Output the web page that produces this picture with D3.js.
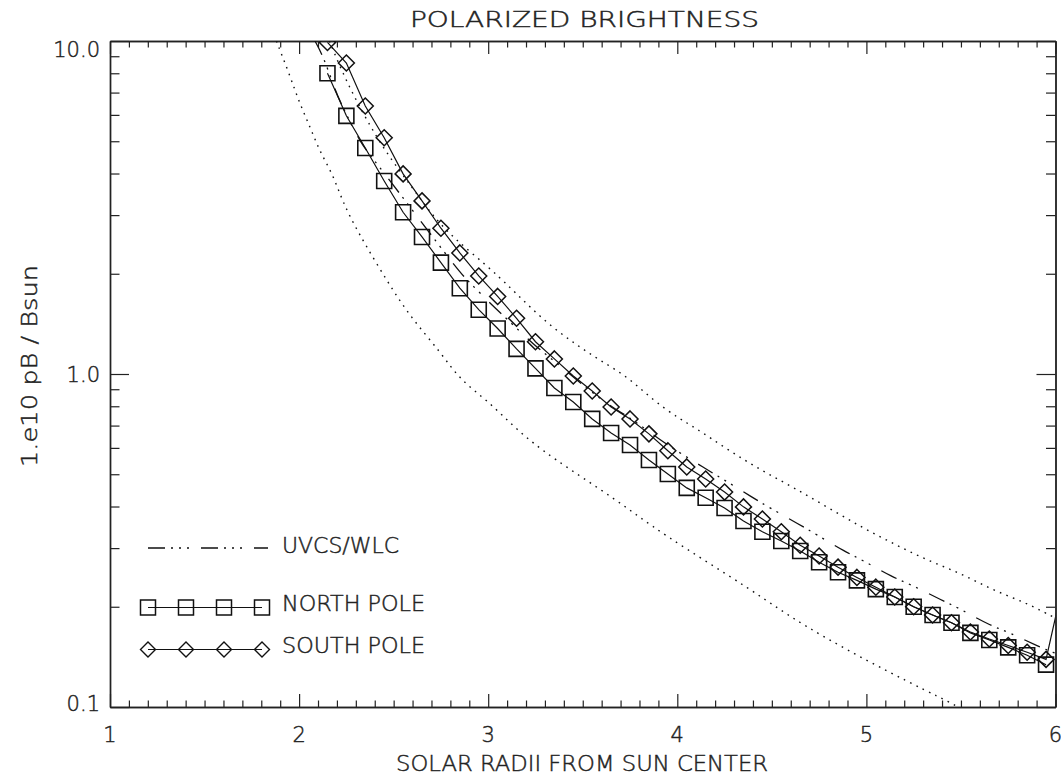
<!DOCTYPE html>
<html>
<head>
<meta charset="utf-8">
<script src="https://cdn.jsdelivr.net/npm/d3@7"></script>
<style>
body { margin: 0; background: #fff; }
text { font-family: "DejaVu Sans", sans-serif; font-weight: 200; fill: #222; stroke: #222; stroke-width: 0.45; }
</style>
</head>
<body>
<script>
// ---- data ----
const xTicks = [1, 2, 3, 4, 5, 6];
const yTicks = [0.1, 1, 10];
const yTickLabels = ["0.1", "1.0", "10.0"];

const northR = [2.15, 2.25, 2.35, 2.45, 2.55, 2.65, 2.75, 2.85, 2.95, 3.05, 3.15, 3.25, 3.35, 3.45,
  3.55, 3.65, 3.75, 3.85, 3.95, 4.05, 4.15, 4.25, 4.35, 4.45, 4.55, 4.65, 4.75, 4.85, 4.95,
  5.05, 5.15, 5.25, 5.35, 5.45, 5.55, 5.65, 5.75, 5.85, 5.95];
const northPB = [8.0, 5.96, 4.77, 3.80, 3.06, 2.58, 2.16, 1.81, 1.56, 1.37, 1.19, 1.04, 0.908, 0.824,
  0.733, 0.665, 0.612, 0.552, 0.501, 0.455, 0.425, 0.396, 0.362, 0.336, 0.315, 0.294, 0.272, 0.254, 0.240,
  0.226, 0.214, 0.200, 0.189, 0.179, 0.167, 0.159, 0.151, 0.143, 0.134];

const southR = [2.15, 2.25, 2.35, 2.45, 2.55, 2.65, 2.75, 2.85, 2.95, 3.05, 3.15, 3.25, 3.35, 3.45,
  3.55, 3.65, 3.75, 3.85, 3.95, 4.05, 4.15, 4.25, 4.35, 4.45, 4.55, 4.65, 4.75, 4.85, 4.95,
  5.05, 5.15, 5.25, 5.35, 5.45, 5.55, 5.65, 5.75, 5.85, 5.95, 6.05];
const southPB = [9.9, 8.59, 6.38, 5.12, 3.99, 3.31, 2.74, 2.31, 1.97, 1.71, 1.47, 1.25, 1.11, 0.986,
  0.889, 0.796, 0.733, 0.661, 0.588, 0.526, 0.484, 0.442, 0.399, 0.367, 0.336, 0.306, 0.284, 0.263, 0.245,
  0.229, 0.214, 0.200, 0.189, 0.179, 0.168, 0.160, 0.153, 0.146, 0.139, 0.249];

const uvcsR = [2.08, 2.13, 2.19, 2.23, 2.33, 2.39, 2.83, 2.89, 3.03, 3.09, 3.25, 3.33, 3.59, 3.77, 3.92,
  4.16, 4.24, 4.40, 4.48, 4.65, 4.73, 4.89, 4.98, 5.14, 5.23, 5.40, 5.49, 5.65, 5.75, 5.92, 6.00];
const uvcsPB = [10.1, 8.95, 7.13, 6.34, 4.87, 4.46, 2.08, 1.91, 1.59, 1.48, 1.21, 1.12, 0.836, 0.728, 0.625,
  0.515, 0.484, 0.425, 0.399, 0.352, 0.331, 0.292, 0.276, 0.245, 0.234, 0.209, 0.198, 0.176, 0.168, 0.151, 0.145];

// dotted envelope curves
const lowR = [1.88, 1.95, 2.00, 2.06, 2.11, 2.18, 2.23, 2.31, 2.47, 2.59, 2.75, 2.85, 3.00, 3.15, 3.33,
  3.68, 3.91, 4.40, 4.65, 5.14, 5.48, 5.52];
const lowPB = [10.0, 7.91, 6.56, 5.48, 4.65, 3.96, 3.29, 2.67, 1.88, 1.48, 1.16, 0.96, 0.83, 0.68, 0.563,
  0.419, 0.333, 0.224, 0.177, 0.125, 0.101, 0.097];

const highR = [2.16, 2.25, 2.38, 2.48, 2.60, 2.70, 2.81, 3.00, 3.12, 3.22, 3.34, 3.47, 3.59, 3.74, 3.87,
  4.02, 4.09, 4.27, 4.44, 4.61, 4.79, 4.97, 5.14, 5.32, 5.50, 5.67, 5.85, 5.99];
const highPB = [10.0, 7.53, 5.48, 4.46, 3.62, 3.02, 2.58, 2.10, 1.81, 1.59, 1.38, 1.22, 1.10, 0.979, 0.835,
  0.728, 0.693, 0.591, 0.515, 0.458, 0.399, 0.348, 0.310, 0.276, 0.252, 0.224, 0.205, 0.186];

// ---- layout ----
const W = 1061, H = 778;
const pL = 110, pR = 1055.5, pT = 41, pB = 707;

const svg = d3.select("body").append("svg")
  .attr("width", W).attr("height", H);

const x = d3.scaleLinear().domain([1, 6]).range([pL, pR]);
const y = d3.scaleLog().domain([0.1, 10]).range([pB, pT]);

const zip = (a, b) => a.map((v, i) => [v, b[i]]);

svg.append("defs").append("clipPath").attr("id", "plotclip")
  .append("rect").attr("x", pL).attr("y", pT)
  .attr("width", pR - pL).attr("height", pB - pT);

// ---- axes ----
const xMinor = d3.range(10, 61).map(d => d / 10).filter(d => !xTicks.includes(d));
const yMinor = [];
[0.1, 1].forEach(dec => { for (let k = 2; k <= 9; k++) yMinor.push(dec * k); });

const xLen = 13, yLen = 19;

function styleAxis(g) {
  g.selectAll("path.domain").attr("stroke", "#222").attr("stroke-width", 1.4);
  g.selectAll(".tick line").attr("stroke", "#222").attr("stroke-width", 1.2);
  g.selectAll(".tick text").remove();
}

svg.append("g").attr("transform", `translate(0,${pB})`)
  .call(d3.axisBottom(x).tickValues(xTicks).tickSizeInner(-xLen).tickSizeOuter(0)).call(styleAxis);
svg.append("g").attr("transform", `translate(0,${pB})`)
  .call(d3.axisBottom(x).tickValues(xMinor).tickSizeInner(-xLen / 2).tickSizeOuter(0)).call(styleAxis);
svg.append("g").attr("transform", `translate(0,${pT})`)
  .call(d3.axisTop(x).tickValues(xTicks).tickSizeInner(-xLen).tickSizeOuter(0)).call(styleAxis);
svg.append("g").attr("transform", `translate(0,${pT})`)
  .call(d3.axisTop(x).tickValues(xMinor).tickSizeInner(-xLen / 2).tickSizeOuter(0)).call(styleAxis);

svg.append("g").attr("transform", `translate(${pL},0)`)
  .call(d3.axisLeft(y).tickValues(yTicks).tickSizeInner(-yLen).tickSizeOuter(0)).call(styleAxis);
svg.append("g").attr("transform", `translate(${pL},0)`)
  .call(d3.axisLeft(y).tickValues(yMinor).tickSizeInner(-yLen / 2).tickSizeOuter(0)).call(styleAxis);
svg.append("g").attr("transform", `translate(${pR},0)`)
  .call(d3.axisRight(y).tickValues(yTicks).tickSizeInner(-yLen).tickSizeOuter(0)).call(styleAxis);
svg.append("g").attr("transform", `translate(${pR},0)`)
  .call(d3.axisRight(y).tickValues(yMinor).tickSizeInner(-yLen / 2).tickSizeOuter(0)).call(styleAxis);

// tick labels
svg.append("g").selectAll("text").data(xTicks).join("text")
  .attr("x", d => x(d)).attr("y", 742)
  .attr("text-anchor", "middle").attr("font-size", 21)
  .text(d => d);

svg.append("g").selectAll("text").data(yTicks).join("text")
  .attr("x", 100)
  .attr("y", d => Math.min(Math.max(y(d), pT + 8.5), pB - 4) + 7.5)
  .attr("text-anchor", "end").attr("font-size", 21)
  .text((d, i) => yTickLabels[i]);

// titles
svg.append("text").attr("x", 410).attr("y", 27)
  .attr("font-size", 21).attr("textLength", 349).attr("lengthAdjust", "spacingAndGlyphs")
  .text("POLARIZED BRIGHTNESS");
svg.append("text").attr("x", 396).attr("y", 771)
  .attr("font-size", 21).attr("textLength", 372).attr("lengthAdjust", "spacingAndGlyphs")
  .text("SOLAR RADII FROM SUN CENTER");
svg.append("text").attr("transform", "translate(37,467) rotate(-90)")
  .attr("font-size", 21).attr("textLength", 202).attr("lengthAdjust", "spacingAndGlyphs")
  .text("1.e10 pB / Bsun");

// ---- data marks ----
const plot = svg.append("g").attr("clip-path", "url(#plotclip)");

const smooth = d3.line().x(d => x(d[0])).y(d => y(d[1])).curve(d3.curveBasis);
const straight = d3.line().x(d => x(d[0])).y(d => y(d[1]));

const dotted = "1.6,5.4";
const dashDot = "17,6,2,6,2,6,2,12";

plot.append("path").datum(zip(lowR, lowPB)).attr("d", smooth)
  .attr("fill", "none").attr("stroke", "#111").attr("stroke-width", 1.4).attr("stroke-dasharray", dotted);
plot.append("path").datum(zip(highR, highPB)).attr("d", smooth)
  .attr("fill", "none").attr("stroke", "#111").attr("stroke-width", 1.4).attr("stroke-dasharray", dotted);
plot.append("path").datum(zip(uvcsR, uvcsPB)).attr("d", smooth)
  .attr("fill", "none").attr("stroke", "#111").attr("stroke-width", 1.3).attr("stroke-dasharray", dashDot);

plot.append("path").datum(zip(northR, northPB)).attr("d", straight)
  .attr("fill", "none").attr("stroke", "#111").attr("stroke-width", 1.2);
plot.append("path").datum(zip(southR, southPB)).attr("d", straight)
  .attr("fill", "none").attr("stroke", "#111").attr("stroke-width", 1.2);

const sq = 15, dia = 8;
const squarePath = `M${-sq / 2},${-sq / 2}h${sq}v${sq}h${-sq}Z`;
const diamondPath = `M0,${-dia}L${dia},0L0,${dia}L${-dia},0Z`;

plot.append("g").selectAll("path").data(zip(northR, northPB)).join("path")
  .attr("transform", d => `translate(${x(d[0])},${y(d[1])})`)
  .attr("d", squarePath).attr("fill", "none").attr("stroke", "#111").attr("stroke-width", 1.6);
plot.append("g").selectAll("path").data(zip(southR, southPB)).join("path")
  .attr("transform", d => `translate(${x(d[0])},${y(d[1])})`)
  .attr("d", diamondPath).attr("fill", "none").attr("stroke", "#111").attr("stroke-width", 1.5);

// ---- legend ----
const legend = svg.append("g");
const legX = [148, 186, 224, 262];

legend.append("line").attr("x1", 148).attr("x2", 268).attr("y1", 548).attr("y2", 548)
  .attr("stroke", "#111").attr("stroke-width", 1.3).attr("stroke-dasharray", dashDot);
legend.append("text").attr("x", 282).attr("y", 553).attr("font-size", 21)
  .attr("textLength", 117).attr("lengthAdjust", "spacingAndGlyphs").text("UVCS/WLC");

legend.append("line").attr("x1", 148).attr("x2", 262).attr("y1", 607.5).attr("y2", 607.5)
  .attr("stroke", "#111").attr("stroke-width", 1.2);
legend.selectAll("path.sq").data(legX).join("path").attr("class", "sq")
  .attr("transform", d => `translate(${d},607.5)`).attr("d", `M-7.5,-7.5h15v15h-15Z`)
  .attr("fill", "none").attr("stroke", "#111").attr("stroke-width", 1.5);
legend.append("text").attr("x", 282).attr("y", 611).attr("font-size", 21)
  .attr("textLength", 143).attr("lengthAdjust", "spacingAndGlyphs").text("NORTH POLE");

legend.append("line").attr("x1", 148).attr("x2", 262).attr("y1", 649.5).attr("y2", 649.5)
  .attr("stroke", "#111").attr("stroke-width", 1.2);
legend.selectAll("path.di").data(legX).join("path").attr("class", "di")
  .attr("transform", d => `translate(${d},649.5)`).attr("d", `M0,-7.5L7.5,0L0,7.5L-7.5,0Z`)
  .attr("fill", "none").attr("stroke", "#111").attr("stroke-width", 1.4);
legend.append("text").attr("x", 282).attr("y", 653).attr("font-size", 21)
  .attr("textLength", 143).attr("lengthAdjust", "spacingAndGlyphs").text("SOUTH POLE");
</script>
</body>
</html>
